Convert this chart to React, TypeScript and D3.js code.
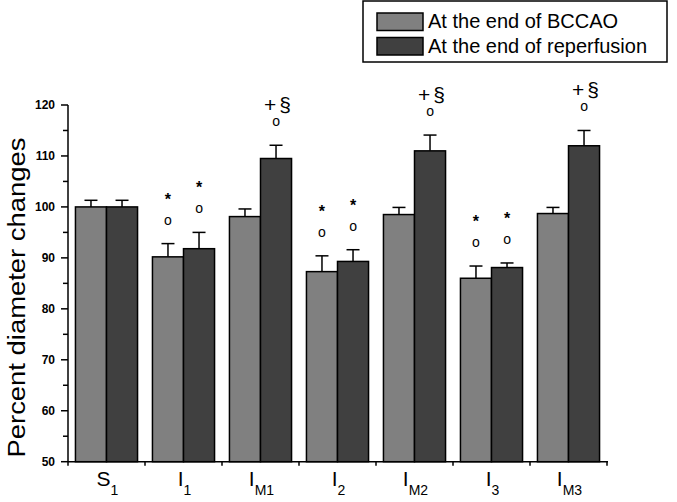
import React from "react";
import * as d3 from "d3";

const categories = ["S1", "I1", "IM1", "I2", "IM2", "I3", "IM3"];
const catMain = ["S", "I", "I", "I", "I", "I", "I"];
const catSub = ["1", "1", "M1", "2", "M2", "3", "M3"];
const seriesNames = ["At the end of BCCAO", "At the end of reperfusion"];
const bccao = [100, 90.2, 98.1, 87.3, 98.5, 86.0, 98.7];
const bccaoErr = [1.3, 2.6, 1.5, 3.1, 1.4, 2.4, 1.2];
const reperf = [100, 91.8, 109.5, 89.3, 111.0, 88.1, 112.0];
const reperfErr = [1.3, 3.2, 2.6, 2.3, 3.1, 0.9, 3.0];
// annotations: [circle, top mark]
const bccaoMarks = [["", ""], ["o", "*"], ["", ""], ["o", "*"], ["", ""], ["o", "*"], ["", ""]];
const reperfMarks = [["", ""], ["o", "*"], ["o", "+§"], ["o", "*"], ["o", "+§"], ["o", "*"], ["o", "+§"]];
const yTicks = [50, 60, 70, 80, 90, 100, 110, 120];
const yMinorTicks = [55, 65, 75, 85, 95, 105, 115];

const W = 677, H = 502;
const FONT = "'Liberation Sans', Arial, sans-serif";
const COLORS = ["#808080", "#404040"];

export default function App() {
  const x = d3.scaleBand<string>().domain(categories).range([68, 607]).padding(0);
  const inner = d3.scaleBand<number>().domain([0, 1]).range([0, x.step()]).paddingInner(0).paddingOuter(0.24);
  const y = d3.scaleLinear().domain([50, 120]).range([461.7, 105]);
  const series = [
    { vals: bccao, errs: bccaoErr, marks: bccaoMarks },
    { vals: reperf, errs: reperfErr, marks: reperfMarks },
  ];
  const boundaries = categories.map((c) => x(c)!).concat([x.range()[1]]);

  return (
    <svg width={W} height={H} style={{ position: "absolute", left: 0, top: 0, background: "#fff" }} fontFamily={FONT}>
      <rect x={0} y={0} width={W} height={H} fill="#fff" />
      {/* legend */}
      <rect x={363} y={1} width={304} height={61} fill="#fff" stroke="#000" strokeWidth={1.5} />
      {seriesNames.map((n, i) => (
        <g key={n}>
          <rect x={377} y={13 + i * 24.5} width={46} height={17.5} fill={COLORS[i]} stroke="#000" strokeWidth={1.5} />
          <text x={428} y={28 + i * 24.5} fontSize={20} fill="#000">{n}</text>
        </g>
      ))}
      {/* bars */}
      {series.map((s, si) =>
        categories.map((c, ci) => {
          const bx = x(c)! + inner(si)!;
          const bw = inner.bandwidth();
          const cx = bx + bw / 2;
          const top = y(s.vals[ci]);
          const et = y(s.vals[ci] + s.errs[ci]);
          const [circ, mark] = s.marks[ci];
          return (
            <g key={c + si}>
              <line x1={cx} x2={cx} y1={top} y2={et} stroke="#000" strokeWidth={1.5} />
              <line x1={cx - 6.5} x2={cx + 6.5} y1={et} y2={et} stroke="#000" strokeWidth={1.5} />
              <rect x={bx} y={top} width={bw} height={y(50) - top} fill={COLORS[si]} stroke="#000" strokeWidth={1.5} />
              {circ && (
                <text x={cx} y={et - 19} fontSize={14} textAnchor="middle" fill="#000">{circ}</text>
              )}
              {mark === "*" && (
                <text x={cx} y={et - 39} fontSize={16} fontWeight="bold" textAnchor="middle" fill="#000">*</text>
              )}
              {mark === "+§" && (
                <text x={cx + 3} y={et - 33} fontSize={21} textAnchor="middle" fill="#000" letterSpacing={3}>+§</text>
              )}
            </g>
          );
        })
      )}
      {/* y axis */}
      <line x1={68} x2={68} y1={y(120)} y2={y(50)} stroke="#000" strokeWidth={1.5} />
      {yTicks.map((t) => (
        <g key={t}>
          <line x1={61} x2={68} y1={y(t)} y2={y(t)} stroke="#000" strokeWidth={1.5} />
          <text x={55} y={y(t) + 4} fontSize={12} fontWeight="bold" textAnchor="end" fill="#000">{t}</text>
        </g>
      ))}
      {yMinorTicks.map((t) => (
        <line key={t} x1={63} x2={68} y1={y(t)} y2={y(t)} stroke="#000" strokeWidth={1.5} />
      ))}
      <text
        transform={`translate(25, ${(137 + 458) / 2}) rotate(-90)`}
        fontSize={23}
        textAnchor="middle"
        textLength={320}
        lengthAdjust="spacingAndGlyphs"
        fill="#000"
      >
        Percent diameter changes
      </text>
      {/* x axis */}
      <line x1={68} x2={608} y1={y(50)} y2={y(50)} stroke="#000" strokeWidth={1.5} />
      {boundaries.map((b, i) => (
        <line key={i} x1={b} x2={b} y1={y(50)} y2={y(50) + 4} stroke="#000" strokeWidth={1.5} />
      ))}
      {categories.map((c, i) => (
        <text key={c} x={x(c)! + x.bandwidth() / 2 + 1} y={486} textAnchor="middle" fontSize={21} fill="#000">
          <tspan>{catMain[i]}</tspan>
          <tspan dy={9} fontSize={14}>{catSub[i]}</tspan>
        </text>
      ))}
    </svg>
  );
}
